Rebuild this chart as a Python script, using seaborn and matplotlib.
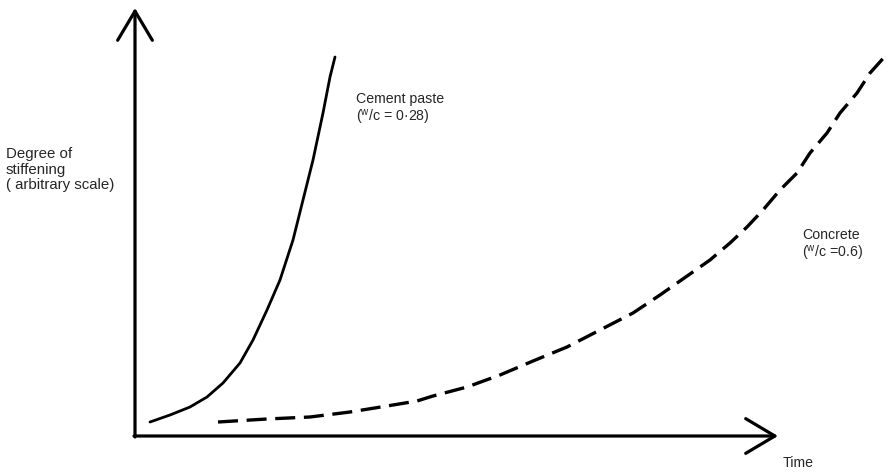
import matplotlib
matplotlib.use("Agg")
import matplotlib.pyplot as plt
import seaborn as sns
import pandas as pd

# Data (arbitrary units)
paste_time = [1.5, 3.5, 5.5, 7.2, 8.8, 10.5, 11.8, 13.2, 14.5, 15.8, 16.8,
              17.8, 18.8, 19.5, 20.0]
paste_stiff = [1.4, 2.1, 2.9, 3.9, 5.3, 7.3, 9.6, 12.6, 15.6, 19.6, 23.6,
               27.6, 32.3, 35.9, 37.9]

concrete_time = [8.3, 13.2, 17.5, 21.5, 25.2, 28.2, 29.8, 33.2, 36.5, 39.8,
                 43.2, 46.5, 49.8, 52.5, 55.5, 57.5, 59.5, 61.2, 62.8, 64.5,
                 66.2, 67.5, 69.2, 70.5, 72.2, 73.5, 75.3]
concrete_stiff = [1.4, 1.7, 1.9, 2.4, 3.0, 3.5, 4.0, 4.9, 6.1, 7.5, 8.9,
                  10.6, 12.3, 14.1, 16.2, 17.6, 19.3, 20.9, 22.6, 24.6, 26.3,
                  28.3, 30.3, 32.3, 34.3, 36.3, 38.3]

x_max = 64.3
y_max = 42.8

sns.set_style("white")
plt.rcParams['font.family'] = ['Liberation Sans', 'DejaVu Sans']
plt.rcParams['mathtext.fontset'] = 'custom'
plt.rcParams['mathtext.rm'] = 'Liberation Sans'

W, H = 889, 475
fig = plt.figure(figsize=(W / 100, H / 100), dpi=100)
ax = fig.add_axes([135 / W, (H - 436) / H, (778 - 135) / W, (436 - 8) / H])

df_p = pd.DataFrame({"t": paste_time, "s": paste_stiff})
df_c = pd.DataFrame({"t": concrete_time, "s": concrete_stiff})

sns.lineplot(data=df_p, x="t", y="s", ax=ax, color="black", lw=2.0,
             sort=False, estimator=None)
sns.lineplot(data=df_c, x="t", y="s", ax=ax, color="black", lw=2.4,
             sort=False, estimator=None)
ax.lines[-1].set_dashes((6.0, 2.6))
for ln in ax.lines:
    ln.set_clip_on(False)
    ln.set_solid_joinstyle("round")
    ln.set_dash_joinstyle("round")

ax.set_xlim(0, x_max)
ax.set_ylim(0, y_max)
for s in ax.spines.values():
    s.set_visible(False)
ax.set_xticks([])
ax.set_yticks([])
ax.set_xlabel("")
ax.set_ylabel("")

arrow = dict(arrowstyle="->,head_length=2.1,head_width=1.25", lw=2.3,
             color="black", shrinkA=0, shrinkB=0)
ax.annotate("", xy=(0, y_max), xytext=(0, -0.1), arrowprops=arrow,
            annotation_clip=False)
ax.annotate("", xy=(x_max, 0), xytext=(-0.1, 0), arrowprops=arrow,
            annotation_clip=False)

fig.text(6 / W, 1 - 147 / H, "Degree of\nstiffening\n( arbitrary scale)",
         fontsize=10.8, va="top", ha="left", linespacing=1.15)
fig.text(356 / W, 1 - 92 / H, "Cement paste\n($^{\\mathrm{w}}$/c = 0·28)",
         fontsize=10.2, va="top", ha="left", linespacing=1.15)
fig.text(802 / W, 1 - 228 / H, "Concrete\n($^{\\mathrm{w}}$/c =0.6)",
         fontsize=10.2, va="top", ha="left", linespacing=1.15)
fig.text(783 / W, 1 - 456 / H, "Time", fontsize=10.2, va="top", ha="left")

fig.savefig("out.png", dpi=100)
